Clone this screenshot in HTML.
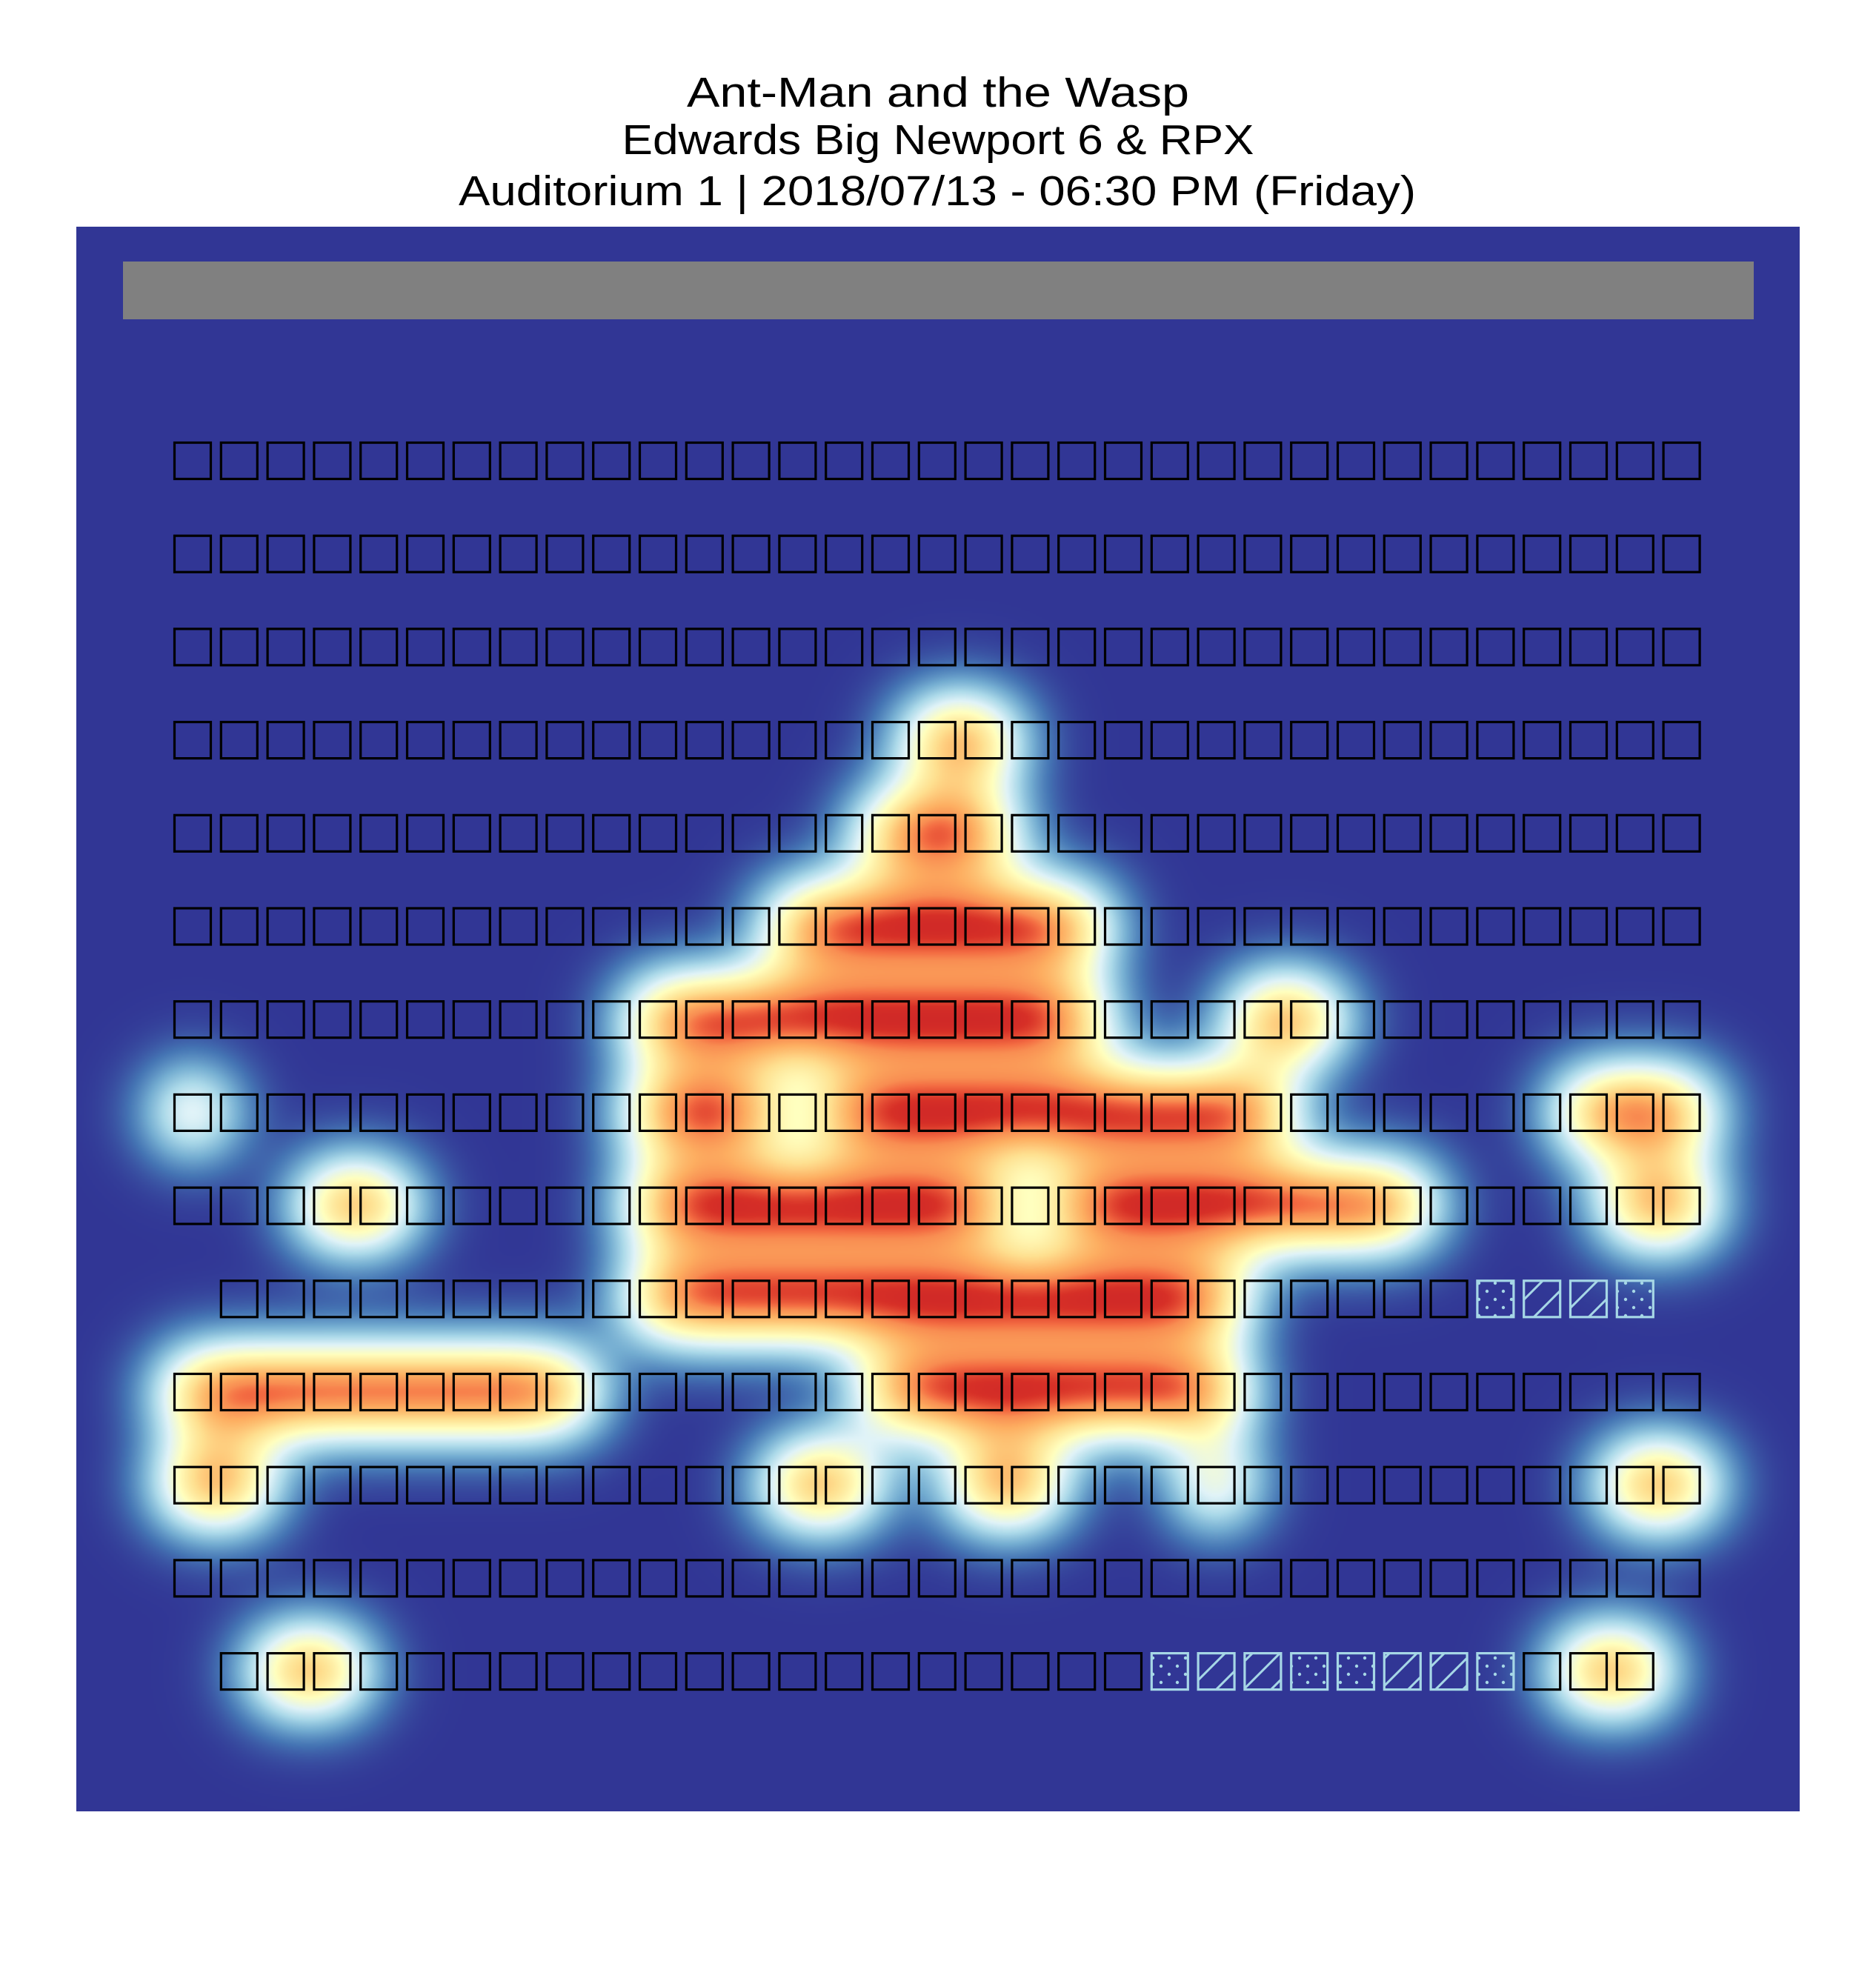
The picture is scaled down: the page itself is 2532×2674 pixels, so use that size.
<!DOCTYPE html>
<html><head><meta charset="utf-8">
<style>
html,body{margin:0;padding:0;background:#fff;}
#root{position:relative;width:2532px;height:2674px;overflow:hidden;background:#fff;}
#heat{position:absolute;left:103px;top:306px;width:2326px;height:2139px;}
#ov{position:absolute;left:0;top:0;}
</style></head>
<body>
<div id="root">
<svg width="2532" height="300" style="position:absolute;left:0;top:0">
<text x="1266" y="144" text-anchor="middle" font-family="Liberation Sans, sans-serif" font-size="57" textLength="678" lengthAdjust="spacingAndGlyphs">Ant-Man and the Wasp</text>
<text x="1266" y="208" text-anchor="middle" font-family="Liberation Sans, sans-serif" font-size="57" textLength="853" lengthAdjust="spacingAndGlyphs">Edwards Big Newport 6 &amp; RPX</text>
<text x="1265" y="277" text-anchor="middle" font-family="Liberation Sans, sans-serif" font-size="57" textLength="1292" lengthAdjust="spacingAndGlyphs">Auditorium 1 | 2018/07/13 - 06:30 PM (Friday)</text>
</svg>
<canvas id="heat" width="1163" height="1070"></canvas>
<svg id="ov" width="2532" height="2674">
<defs>
<pattern id="dots" width="22" height="22" patternUnits="userSpaceOnUse">
<circle cx="5" cy="5" r="2.2" fill="#a6d7e6"/><circle cx="16" cy="16" r="2.2" fill="#a6d7e6"/>
</pattern>
<pattern id="hatch" width="37" height="37" patternUnits="userSpaceOnUse">
<path d="M-5,42 L42,-5 M-5,5 L5,-5 M32,42 L42,32" stroke="#a6d7e6" stroke-width="3"/>
</pattern>
</defs>
<rect x="166" y="353" width="2201" height="78" fill="#808080"/>
<g id="seats"></g>
</svg>
</div>
<script>
// seat layout data
const rowSeatCounts = [33,33,33,33,33,33,33,33,33,31,33,33,33,31];
const rowOffsets    = [0,0,0,0,0,0,0,0,0,1,0,0,0,1];
// occupied seats (column indices) per row
const occRow0 = [];
const occRow1 = [];
const occRow2 = [];
const occRow3 = [16,17];
const occRow4 = [15,16,17];
const occRow5 = [13,14,15,16,17,18,19];
const occRow6 = [10,11,12,13,14,15,16,17,18,19,23,24];
const occRow7 = [0,10,11,12,14,15,16,17,18,19,20,21,22,23,30,31,32];
const occRow8 = [3,4,10,11,12,13,14,15,16,17,19,20,21,22,23,24,25,26,31,32];
const occRow9 = [10,11,12,13,14,15,16,17,18,19,20,21,22];
const occRow10 = [0,1,2,3,4,5,6,7,8,15,16,17,18,19,20,21,22];
const occRow11 = [0,1,13,14,17,18,22,31,32];
const occRow12 = [];
const occRow13 = [2,3,30,31];
const occupied = [occRow0,occRow1,occRow2,occRow3,occRow4,occRow5,occRow6,occRow7,occRow8,occRow9,occRow10,occRow11,occRow12,occRow13];
// special (unavailable) seats: [row, col, type]
const specialSeats = [[9,28,'dots'],[9,29,'hatch'],[9,30,'hatch'],[9,31,'dots'],
 [13,21,'dots'],[13,22,'hatch'],[13,23,'hatch'],[13,24,'dots'],[13,25,'dots'],[13,26,'hatch'],[13,27,'hatch'],[13,28,'dots']];

const X0=234, PX=62.8, Y0=596, PY=125.7, S=52;
function xPos(c){return X0+c*PX;}
function yPos(r){return Y0+r*PY;}

const g=document.getElementById('seats');
const NS='http://www.w3.org/2000/svg';
function specialType(r,c){for(const s of specialSeats){if(s[0]===r&&s[1]===c)return s[2];}return null;}
for(let r=0;r<rowSeatCounts.length;r++){
  for(let k=0;k<rowSeatCounts[r];k++){
    const c=k+rowOffsets[r];
    const t=specialType(r,c);
    const rc=document.createElementNS(NS,'rect');
    rc.setAttribute('x',xPos(c)+1.5);rc.setAttribute('y',yPos(r)+1.5);
    rc.setAttribute('width',S-3);rc.setAttribute('height',S-3);
    rc.setAttribute('fill',t?('url(#'+t+')'):'none');
    rc.setAttribute('stroke',t?'#a6d7e6':'#000');
    rc.setAttribute('stroke-width','3.2');
    
    
    g.appendChild(rc);
  }
}

// heatmap
const cv=document.getElementById('heat');
const ctx=cv.getContext('2d');
const W=cv.width,H=cv.height,SC=2,OX=103,OY=306;
const dens=new Float32Array(W*H);
const sig=52/SC, R=Math.ceil(4.2*sig);
for(let r=0;r<occupied.length;r++){
  for(const c of occupied[r]){
    const cx=(xPos(c)+S/2-OX)/SC, cy=(yPos(r)+S/2-OY)/SC;
    const x0=Math.max(0,Math.floor(cx-R)),x1=Math.min(W-1,Math.ceil(cx+R));
    const y0=Math.max(0,Math.floor(cy-R)),y1=Math.min(H-1,Math.ceil(cy+R));
    for(let y=y0;y<=y1;y++){const dy=y+0.5-cy;
      for(let x=x0;x<=x1;x++){const dx=x+0.5-cx;
        dens[y*W+x]+=Math.exp(-(dx*dx+dy*dy)/(2*sig*sig));}}
  }
}
const dK=[0,1,1.45,2.05,2.25,2.6];
const vK=[0,0.4,0.55,0.75,0.9,1.0];
function mapV(d){
  if(d>=dK[dK.length-1])return 1;
  for(let i=0;i<dK.length-1;i++){if(d<dK[i+1]){const t=(d-dK[i])/(dK[i+1]-dK[i]);return vK[i]+(vK[i+1]-vK[i])*t;}}
  return 1;
}
const cmap=[[49,54,149],[69,117,180],[116,173,209],[171,217,233],[224,243,248],[255,255,191],[254,224,144],[253,174,97],[244,109,67],[215,48,39],[165,0,38]];
const img=ctx.createImageData(W,H);
for(let i=0;i<W*H;i++){
  const v=mapV(dens[i]);
  const f=v*10, k=Math.min(9,Math.floor(f)), t=f-k;
  const a=cmap[k],b=cmap[k+1];
  img.data[i*4]=a[0]+(b[0]-a[0])*t;
  img.data[i*4+1]=a[1]+(b[1]-a[1])*t;
  img.data[i*4+2]=a[2]+(b[2]-a[2])*t;
  img.data[i*4+3]=255;
}
ctx.putImageData(img,0,0);
</script>
</body></html>
